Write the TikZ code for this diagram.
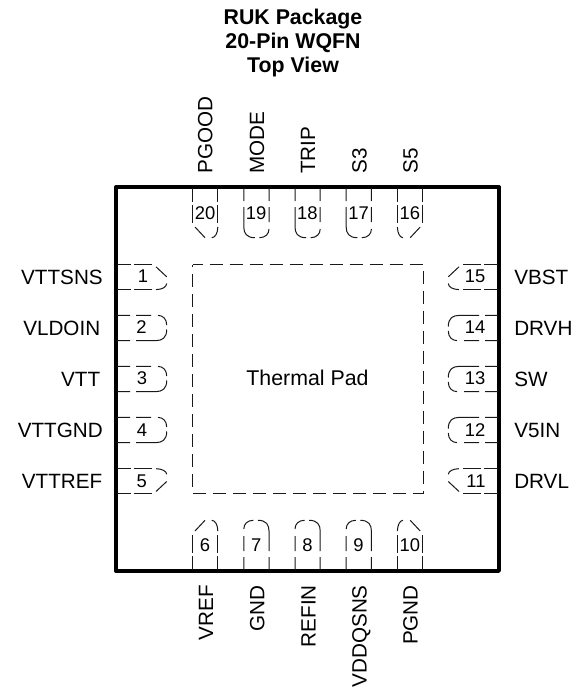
\documentclass[tikz,border=0pt]{standalone}
\usepackage{fontspec}
\setmainfont{Liberation Sans}
\newcommand\Sz[1]{\fontsize{#1}{#1}\selectfont}
\tikzset{
  pinL/.style={x={(.75pt,0pt)},y={(0pt,-.75pt)}},
  pinR/.style={x={(-.75pt,0pt)},y={(0pt,-.75pt)}},
  pinT/.style={x={(0pt,-.75pt)},y={(.75pt,0pt)}},
  pinB/.style={x={(0pt,.75pt)},y={(.75pt,0pt)}},
  pinline/.style={line width=.75pt,black!90},
  lbl/.style={inner sep=0pt,font=\Sz{15.5}},
  padlbl/.style={inner sep=0pt,font=\Sz{16}},
  numlbl/.style={inner sep=0pt,font=\Sz{13.8}},
  ttl/.style={inner sep=0pt,font=\Sz{16}\bfseries}
}
% one outline corner: #1 = side sign, #2 = v at the tip
\newcommand\Rnd[2]{\draw[pinline] (40,#1*12.6) .. controls (46,#1*12.6) and (50.7,#1*10) .. (50.7,#1*#2);}
\newcommand\Chm[1]{\draw[pinline] (40,#1*10.2) -- (50.7,#1*0.2);}
\newcommand\Pin[4]{\begin{scope}[shift={(#1,#2)},#3]
  \draw[pinline] (1,-12.6)--(15,-12.6) (18,-12.6)--(36,-12.6)
                 (1,12.6)--(15,12.6) (18,12.6)--(36,12.6);
  #4
\end{scope}}
% pin with two round corners; #4 = side whose second dash runs into the curve
\newcommand\PinD[4]{\begin{scope}[shift={(#1,#2)},#3]
  \draw[pinline] (1,#4*12.6)--(14,#4*12.6)
     (20,#4*12.6)--(40,#4*12.6) .. controls (46,#4*12.6) and (50.7,#4*10) .. (50.7,#4*1.5);
  \draw[pinline] (1,-#4*12.6)--(14,-#4*12.6) (20,-#4*12.6)--(35,-#4*12.6)
     (42,-#4*12.6) .. controls (47,-#4*12.6) and (50.7,-#4*9) .. (50.7,-#4*3);
\end{scope}}
\begin{document}
\begin{tikzpicture}[x=.75pt,y=-.75pt]
\useasboundingbox (0,0) rectangle (571,688);
% package
\draw[line width=2.5pt,line join=round] (116,187) rectangle (499,571);
\draw[line width=.75pt,black!90,dash pattern=on 10.1pt off 4.9pt,dash phase=2pt] (192.5,264.5) -- (423.5,264.5) -- (423.5,493.5) -- (192.5,493.5) -- cycle;
% titles
\node[ttl,anchor=base] (t1) at (293,25) {RUK Package};
\node[ttl,anchor=base] (t2) at (293,49) {20-Pin WQFN};
\node[ttl,anchor=base] (t3) at (293,73) {Top View};
\node[padlbl] (pad) at (307.5,377.5) {Thermal Pad};
% left pins
\Pin{116}{277}{pinL}{\Chm{-1}\Rnd{1}{6.5}}
\PinD{116}{328}{pinL}{1}
\PinD{116}{379}{pinL}{1}
\PinD{116}{430}{pinL}{1}
\Pin{116}{481.3}{pinL}{\Rnd{-1}{7}\Chm{1}}
% right pins
\Pin{499}{277}{pinR}{\Chm{-1}\Rnd{1}{6.5}}
\PinD{499}{328}{pinR}{-1}
\PinD{499}{379}{pinR}{-1}
\PinD{499}{430}{pinR}{-1}
\Pin{499}{481.3}{pinR}{\Rnd{-1}{7}\Chm{1}}
% top pins
\Pin{205.2}{187}{pinT}{\Chm{-1}\Rnd{1}{6.5}}
\PinD{256.4}{187}{pinT}{-1}
\PinD{307.6}{187}{pinT}{-1}
\PinD{358.8}{187}{pinT}{-1}
\Pin{410}{187}{pinT}{\Rnd{-1}{7}\Chm{1}}
% bottom pins
\Pin{205.2}{571}{pinB}{\Chm{-1}\Rnd{1}{6.5}}
\PinD{256.4}{571}{pinB}{1}
\PinD{307.6}{571}{pinB}{1}
\PinD{358.8}{571}{pinB}{1}
\Pin{410}{571}{pinB}{\Rnd{-1}{7}\Chm{1}}
% pin numbers
\node[numlbl] (n1) at (143,276.5) {1};
\node[numlbl] (n2) at (141.5,327.5) {2};
\node[numlbl] (n3) at (142,378.5) {3};
\node[numlbl] (n4) at (142,429.7) {4};
\node[numlbl] (n5) at (141.7,481) {5};
\node[numlbl] (n15) at (475,276.5) {15};
\node[numlbl] (n14) at (475,327.5) {14};
\node[numlbl] (n13) at (475,378.5) {13};
\node[numlbl] (n12) at (475,429.7) {12};
\node[numlbl] (n11) at (476,481) {11};
\node[numlbl] (n20) at (205,212.7) {20};
\node[numlbl] (n19) at (256.2,212.7) {19};
\node[numlbl] (n18) at (307.4,212.7) {18};
\node[numlbl] (n17) at (358.6,212.7) {17};
\node[numlbl] (n16) at (409.8,212.7) {16};
\node[numlbl] (n6) at (205,545) {6};
\node[numlbl] (n7) at (256.2,545) {7};
\node[numlbl] (n8) at (307.4,545) {8};
\node[numlbl] (n9) at (358.6,545) {9};
\node[numlbl] (n10) at (409.8,545) {10};
% left labels
\node[lbl,anchor=base east] (l1) at (103,284) {VTTSNS};
\node[lbl,anchor=base east] (l2) at (100.5,335) {VLDOIN};
\node[lbl,anchor=base east] (l3) at (100.5,386) {VTT};
\node[lbl,anchor=base east] (l4) at (103,437) {VTTGND};
\node[lbl,anchor=base east] (l5) at (102.5,488) {VTTREF};
% right labels
\node[lbl,anchor=base west] (r15) at (514,284) {VBST};
\node[lbl,anchor=base west] (r14) at (514,335) {DRVH};
\node[lbl,anchor=base west] (r13) at (514,386) {SW};
\node[lbl,anchor=base west] (r12) at (514,437) {V5IN};
\node[lbl,anchor=base west] (r11) at (514,488) {DRVL};
% top labels
\node[lbl,rotate=90,anchor=base west] (p20) at (212.3,174) {PGOOD};
\node[lbl,rotate=90,anchor=base west] (p19) at (264,174) {MODE};
\node[lbl,rotate=90,anchor=base west] (p18) at (315,174) {TRIP};
\node[lbl,rotate=90,anchor=base west] (p17) at (366.7,174) {S3};
\node[lbl,rotate=90,anchor=base west] (p16) at (417.7,174) {S5};
% bottom labels
\node[lbl,rotate=90,anchor=base east] (p6) at (213,585) {VREF};
\node[lbl,rotate=90,anchor=base east] (p7) at (264.3,585) {GND};
\node[lbl,rotate=90,anchor=base east] (p8) at (315.7,585) {REFIN};
\node[lbl,rotate=90,anchor=base east] (p9) at (366.7,585) {VDDQSNS};
\node[lbl,rotate=90,anchor=base east] (p10) at (417.7,585) {PGND};
\end{tikzpicture}
\end{document}
